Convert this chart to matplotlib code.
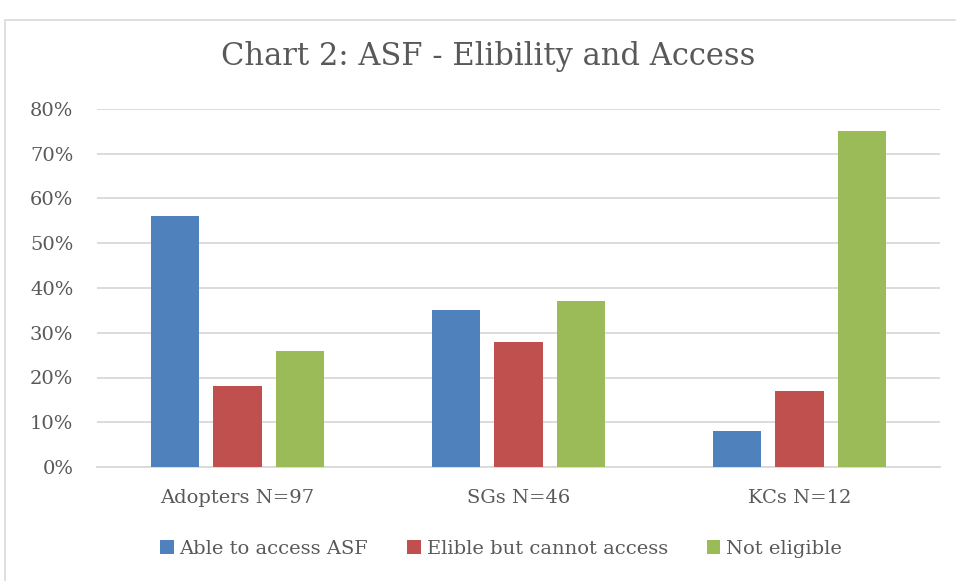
import matplotlib
matplotlib.use("Agg")
import matplotlib.pyplot as plt
import numpy as np
from matplotlib.patches import Rectangle
from matplotlib.ticker import FuncFormatter

categories = ["Adopters N=97", "SGs N=46", "KCs N=12"]
series_names = ["Able to access ASF", "Elible but cannot access", "Not eligible"]
able = [56, 35, 8]
elible = [18, 28, 17]
not_eligible = [26, 37, 75]
colors = ["#4f81bd", "#c0504d", "#9bbb59"]
yticks = [0, 10, 20, 30, 40, 50, 60, 70, 80]

plt.rcParams['font.family'] = ['DejaVu Serif', 'Liberation Serif']
TXT = "#595959"

W, H = 956, 581
fig = plt.figure(figsize=(W / 100, H / 100), dpi=100)
fig.patch.set_facecolor("white")

# outer chart border
fig.add_artist(Rectangle((5 / W, -0.1), 1.2, 1 - 20 / H + 0.1, transform=fig.transFigure,
                         fill=False, edgecolor="#d9d9d9", linewidth=1.2))

left, right, top, bottom = 97, 940, 109, 467
ax = fig.add_axes([left / W, 1 - bottom / H, (right - left) / W, (bottom - top) / H])

x = np.arange(len(categories))
step = 0.222
bw = 0.171
for i, (vals, name) in enumerate(zip([able, elible, not_eligible], series_names)):
    ax.bar(x + (i - 1) * step, vals, width=bw, color=colors[i], label=name, zorder=3)

ax.set_xlim(-0.5, len(categories) - 0.5)
ax.set_ylim(0, 80)
ax.set_yticks(yticks)
ax.yaxis.set_major_formatter(FuncFormatter(lambda v, p: f"{int(v)}%"))
ax.grid(axis="y", color="#d9d9d9", linewidth=1.3, zorder=0)
for s in ["top", "right", "left"]:
    ax.spines[s].set_visible(False)
ax.spines["bottom"].set_color("#d9d9d9")
ax.spines["bottom"].set_linewidth(1.3)
ax.tick_params(axis="both", length=0, colors=TXT, labelsize=14)
ax.tick_params(axis="y", pad=17)
ax.tick_params(axis="x", pad=16)
ax.set_xticks(x)
ax.set_xticklabels(categories)

fig.text(488 / W, 1 - 57 / H, "Chart 2: ASF - Elibility and Access", ha="center", va="center",
         fontsize=22, color=TXT)

leg = fig.legend(loc="center", bbox_to_anchor=(501 / W, 1 - 549 / H), ncol=3, frameon=False,
                 fontsize=14, handlelength=0.7, handleheight=0.7, handletextpad=0.3,
                 columnspacing=2.0)
for t in leg.get_texts():
    t.set_color(TXT)

fig.savefig("out.png", dpi=100, facecolor="white")
